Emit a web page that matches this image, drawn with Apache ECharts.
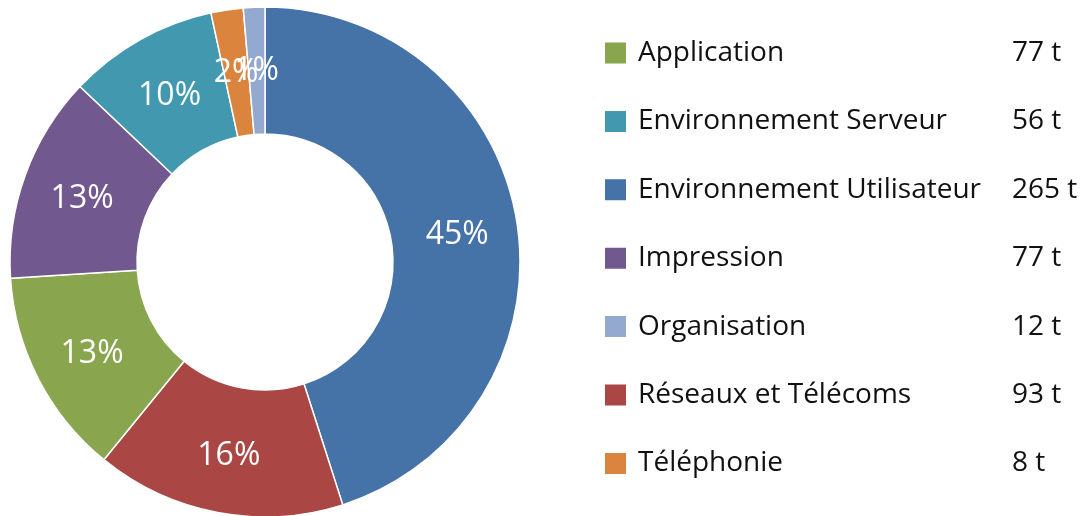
<!DOCTYPE html>
<html>
<head>
<meta charset="utf-8">
<title>Donut tonnage</title>
<script src="https://cdn.jsdelivr.net/npm/echarts@6/dist/echarts.min.js"></script>
<style>
html,body{margin:0;padding:0;background:#fff;}
#main{width:1088px;height:516px;}
</style>
</head>
<body>
<div id="main"></div>
<script>
// slices in the order they run round the ring, clockwise from 12 o'clock
var sliceNames = ['Environnement Utilisateur', 'Réseaux et Télécoms', 'Application', 'Impression', 'Environnement Serveur', 'Téléphonie', 'Organisation'];
var sliceValues = [265, 93, 77, 77, 56, 12, 8];
var sliceColors = ['#4572A7', '#AA4643', '#89A54E', '#71588F', '#4198AF', '#DB843D', '#93A9CF'];

// legend table (alphabetical, with the tonnage column)
var legendNames = ['Application', 'Environnement Serveur', 'Environnement Utilisateur', 'Impression', 'Organisation', 'Réseaux et Télécoms', 'Téléphonie'];
var legendTonnes = ['77 t', '56 t', '265 t', '77 t', '12 t', '93 t', '8 t'];

var font = '"Open Sans", sans-serif';

var chart = echarts.init(document.getElementById('main'));

var pieData = sliceNames.map(function(n, i){
	return {name: n, value: sliceValues[i], itemStyle: {color: sliceColors[i]}};
});

chart.setOption({
	animation: false,
	legend: {
		orient: 'vertical',
		left: 603,
		top: 39,
		padding: 0,
		itemWidth: 23,
		itemHeight: 23,
		itemGap: 40.4,
		icon: 'rect',
		selectedMode: false,
		data: legendNames,
		formatter: function(name){
			return '{n|' + name + '}{v|' + legendTonnes[legendNames.indexOf(name)] + '}';
		},
		textStyle: {
			fontFamily: font,
			fontSize: 28,
			color: '#111',
			lineHeight: 23,
			rich: {
				n: {width: 374, padding: [0, 0, 0, 6], fontFamily: font, fontSize: 28, color: '#111', lineHeight: 23},
				v: {fontFamily: font, fontSize: 28, color: '#111', lineHeight: 23}
			}
		}
	},
	series: [{
		type: 'pie',
		center: [265, 262],
		radius: [128, 255],
		startAngle: 90,
		clockwise: true,
		avoidLabelOverlap: false,
		minShowLabelAngle: 0,
		itemStyle: {borderColor: '#fff', borderWidth: 1.5},
		label: {
			show: true,
			position: 'inside',
			offset: [0, 3],
			formatter: function(p){ return Math.round(p.percent) + '%'; },
			color: '#fff',
			fontFamily: font,
			fontSize: 32,
			textBorderWidth: 0
		},
		labelLayout: {hideOverlap: false},
		labelLine: {show: false},
		emphasis: {disabled: true},
		data: pieData
	}]
});
</script>
</body>
</html>
